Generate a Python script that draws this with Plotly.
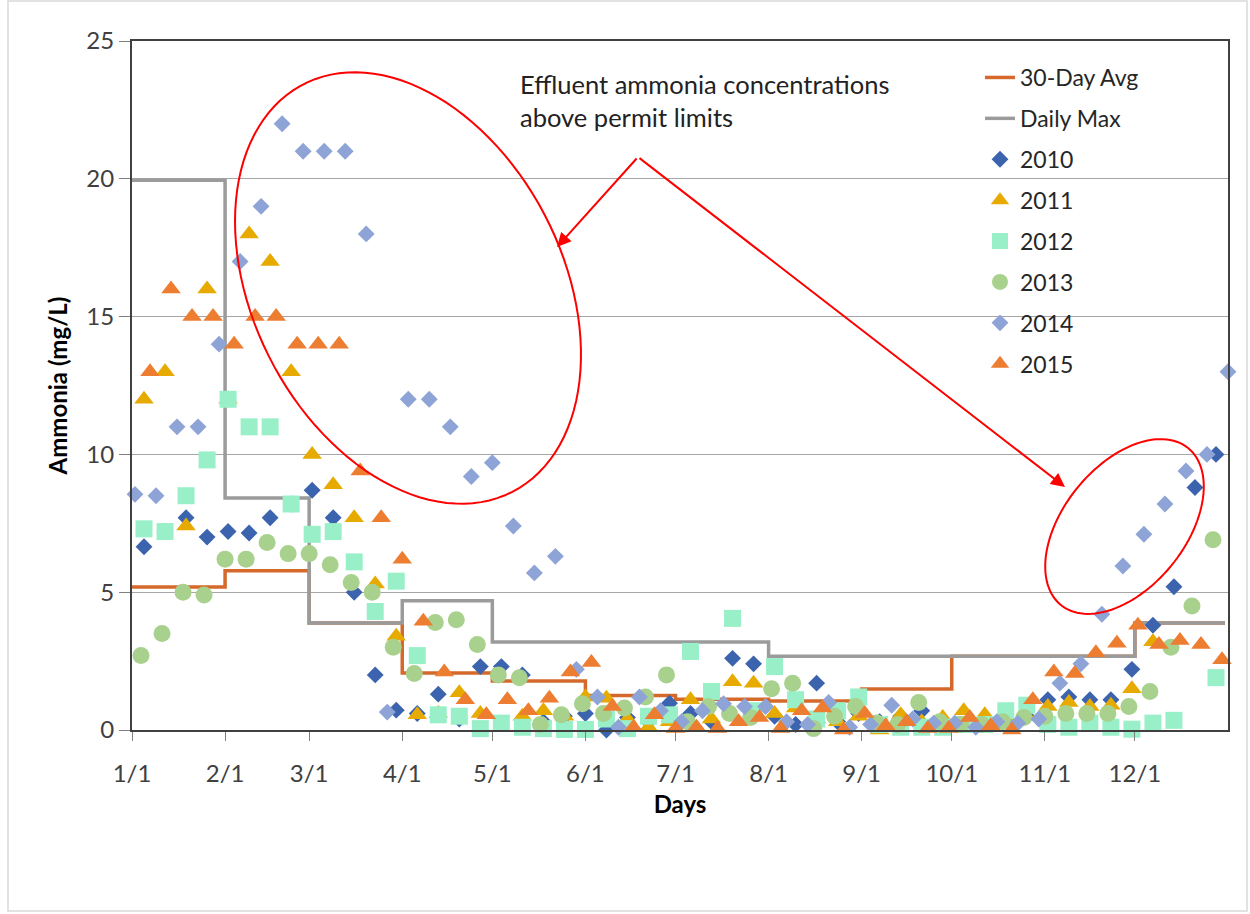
import numpy as np
import pandas as pd
import plotly.graph_objects as go

# ---------------- data ----------------
month_labels = ["1/1", "2/1", "3/1", "4/1", "5/1", "6/1", "7/1", "8/1", "9/1", "10/1", "11/1", "12/1"]
avg_30day = [5.19, 5.78, 3.88, 2.07, 1.78, 1.25, 1.12, 1.05, 1.49, 2.68, 2.68, 3.88]
daily_max = [19.95, 8.42, 3.88, 4.69, 3.19, 3.19, 3.19, 2.68, 2.68, 2.68, 2.68, 3.88]

start_2010 = "2015-01-05"
y2010 = [6.65, 7.2, 7.7, 7.0, 7.2, 7.15, 7.7, 8.2, 8.7, 7.7, 5.0, 2.0, 0.72, 0.6, 1.3, 0.4,
         2.3, 2.3, 2.0, 0.3, 0.5, 0.6, 0.0, 0.45, 0.3, 0.97, 0.6, 0.3, 2.6, 2.4, 0.5, 0.2,
         1.7, 0.3, 0.6, 0.3, 0.5, 0.7, 0.3, 0.2, 0.3, 0.4, 0.5, 1.1, 1.2, 1.1, 1.1, 2.2,
         3.8, 5.2, 8.8, 10.0]
start_2011 = "2015-01-05"
y2011 = [12.0, 13.0, 7.4, 16.0, 12.0, 18.0, 17.0, 13.0, 10.0, 8.9, 7.7, 5.3, 3.4, 0.55,
         0.6, 1.35, 0.6, 0.1, 0.5, 0.7, 0.5, 1.2, 1.15, 0.4, 0.1, 0.3, 1.1, 0.4, 1.75, 1.7,
         0.6, 0.8, 0.4, 0.3, 0.5, 0.0, 0.55, 0.3, 0.45, 0.7, 0.55, 0.45, 0.5, 0.85, 1.0,
         0.85, 0.9, 1.5, 3.2, None, None, None]
start_2012 = "2015-01-05"
y2012 = [7.3, 7.2, 8.5, 9.8, 12.0, 11.0, 11.0, 8.2, 7.1, 7.2, 6.1, 4.3, 5.4, 2.7, 0.55,
         0.5, 0.05, 0.25, 0.1, 0.05, 0.02, 0.02, 0.4, 0.05, 0.5, 0.55, 2.85, 1.4, 4.05,
         0.7, 2.3, 1.1, 0.4, 0.7, 1.2, 0.2, 0.1, 0.1, 0.1, 0.2, 0.2, 0.7, 0.9, 0.2, 0.1,
         0.25, 0.1, 0.03, 0.25, 0.35, None, 1.9]
start_2013 = "2015-01-04"
y2013 = [2.7, 3.5, 5.0, 4.9, 6.2, 6.2, 6.8, 6.4, 6.4, 6.0, 5.35, 5.0, 3.0, 2.05, 3.9, 4.0,
         3.1, 2.0, 1.9, 0.2, 0.55, 0.95, 0.6, 0.8, 1.2, 2.0, 0.3, 0.85, 0.6, 0.45, 1.5,
         1.7, 0.05, 0.5, 0.85, 0.25, 0.2, 1.0, 0.3, 0.2, 0.2, 0.3, 0.45, 0.5, 0.6, 0.6,
         0.6, 0.85, 1.4, 3.0, 4.5, 6.9]
start_2014 = "2015-01-02"
y2014 = [8.55, 8.5, 11.0, 11.0, 14.0, 17.0, 19.0, 22.0, 21.0, 21.0, 21.0, 18.0, 0.65,
         12.0, 12.0, 11.0, 9.2, 9.7, 7.4, 5.7, 6.3, 2.2, 1.2, 0.1, 1.2, 0.7, 0.3, 0.7,
         0.95, 0.85, 0.85, 0.3, 0.2, 1.0, 0.1, 0.2, 0.9, 0.4, 0.25, 0.25, 0.1, 0.3, 0.25,
         0.4, 1.7, 2.4, 4.2, 5.95, 7.1, 8.2, 9.4, 10.0, 13.0]
start_2015 = "2015-01-07"
y2015 = [13.0, 16.0, 15.0, 15.0, 14.0, 15.0, 15.0, 14.0, 14.0, 14.0, 9.4, 7.7, 6.2, 3.95,
         2.1, 1.1, 0.55, 1.1, 0.7, 1.15, 2.1, 2.45, 0.85, 0.1, 0.55, 0.05, 0.1, 0.05, 0.3,
         0.45, 0.05, 0.7, 0.8, 0.0, 0.6, 0.15, 0.3, 0.05, 0.05, 0.45, 0.15, 0.0, 1.1, 2.1,
         2.05, 2.8, 3.15, 3.8, 3.1, 3.25, 3.1, 2.55]

# ---------------- figure ----------------
W, H = 1250, 914
L, R, T, B = 132, 22, 41, 184
FONT = "Lato"

month_starts = pd.date_range("2015-01-01", periods=12, freq="MS")
step_x = list(month_starts) + [pd.Timestamp("2015-12-31")]

fig = go.Figure()
fig.add_trace(go.Scatter(x=step_x, y=avg_30day + [avg_30day[-1]], mode="lines", line_shape="hv",
                         line=dict(color="#D5692B", width=3.5), name="30-Day Avg",
                         legendgroup="a"))
fig.add_trace(go.Scatter(x=step_x, y=daily_max + [daily_max[-1]], mode="lines", line_shape="hv",
                         line=dict(color="#9B9B9B", width=3.5), name="Daily Max",
                         legendgroup="b"))

series = [
    ("2010", start_2010, y2010, "diamond", "#3C64AE", 13),
    ("2011", start_2011, y2011, "triangle-up", "#E6AA00", 17),
    ("2012", start_2012, y2012, "square", "#99F0C8", 17),
    ("2013", start_2013, y2013, "circle", "#A9D18E", 17),
    ("2014", start_2014, y2014, "diamond", "#8EA4D6", 13),
    ("2015", start_2015, y2015, "triangle-up", "#ED7D31", 17),
]
for name, start, ys, sym, col, size in series:
    xs = pd.date_range(start, periods=len(ys), freq="7D")
    fig.add_trace(go.Scatter(x=xs, y=ys, mode="markers", name=name, legendgroup=name,
                             cliponaxis=False,
                             marker=dict(symbol=sym, color=col, size=size, line=dict(width=0))))

def px2paper(X, Y):
    return (X - L) / (W - L - R), (H - B - Y) / (H - T - B)

def ellipse_path(cx, cy, a, b, theta_deg, n=120):
    th = np.radians(theta_deg)
    t = np.linspace(0, 2 * np.pi, n)
    X = cx + a * np.cos(th) * np.cos(t) - b * np.sin(th) * np.sin(t)
    Y = cy + a * np.sin(th) * np.cos(t) + b * np.cos(th) * np.sin(t)
    pts = [px2paper(x, y) for x, y in zip(X, Y)]
    return "M " + " L ".join(f"{p[0]:.5f},{p[1]:.5f}" for p in pts) + " Z"

shapes = [
    dict(type="path", xref="paper", yref="paper", path=ellipse_path(408, 288, 229, 155, 62.9),
         line=dict(color="#FF0000", width=2)),
    dict(type="path", xref="paper", yref="paper", path=ellipse_path(1124.5, 526.5, 101, 61, -51),
         line=dict(color="#FF0000", width=2)),
]
bx0, by0 = px2paper(8, 911)
bx1, by1 = px2paper(1247, 1)
shapes.append(dict(type="rect", xref="paper", yref="paper", x0=bx0, y0=by0, x1=bx1, y1=by1,
                   line=dict(color="#D9D9D9", width=1.5)))

annotations = []
tx, ty = px2paper(518, 67)
annotations.append(dict(xref="paper", yref="paper", x=tx, y=ty, xanchor="left", yanchor="top",
                        align="left", showarrow=False,
                        text="Effluent ammonia concentrations<br>above permit limits",
                        font=dict(family=FONT, size=25.5, color="#222222")))
tail = (638, 157)
for head in [(557, 247), (1065, 487)]:
    hx, hy = px2paper(*head)
    annotations.append(dict(xref="paper", yref="paper", x=hx, y=hy, ax=tail[0] - head[0],
                            ay=tail[1] - head[1], text="", showarrow=True, arrowhead=2,
                            arrowsize=1.4, arrowwidth=2, arrowcolor="#FF0000"))

lx, ly = px2paper(980, 56)
fig.update_layout(
    width=W, height=H, margin=dict(l=L, r=R, t=T, b=B),
    paper_bgcolor="white", plot_bgcolor="white",
    font=dict(family=FONT, size=24, color="#404040"),
    showlegend=True,
    legend=dict(x=lx, y=ly, xanchor="left", yanchor="top", bgcolor="rgba(0,0,0,0)",
                font=dict(family=FONT, size=23, color="#262626"), traceorder="grouped",
                tracegroupgap=8),
    shapes=shapes, annotations=annotations,
    xaxis=dict(type="date", range=["2015-01-01", "2016-01-01"], tickvals=month_starts,
               ticktext=month_labels, showgrid=False, showline=True, linecolor="#404040",
               linewidth=2, mirror=True, ticks="outside", ticklen=9, tickcolor="#808080",
               ticklabelstandoff=12,
               title=dict(text="<b>Days</b>", font=dict(family=FONT, size=24, color="#000000"),
                          standoff=10)),
    yaxis=dict(range=[0, 25], dtick=5, showgrid=True, gridcolor="#A6A6A6", gridwidth=1,
               zeroline=False, showline=True, linecolor="#404040", linewidth=2, mirror=True,
               ticks="outside", ticklen=11, tickcolor="#808080",
               title=dict(text="<b>Ammonia (mg/L)</b>",
                          font=dict(family=FONT, size=24, color="#000000"), standoff=12)),
)

fig.write_html("out.html", config={"displayModeBar": False},
               post_script="document.body.style.margin='0';document.body.style.overflow='hidden';")
